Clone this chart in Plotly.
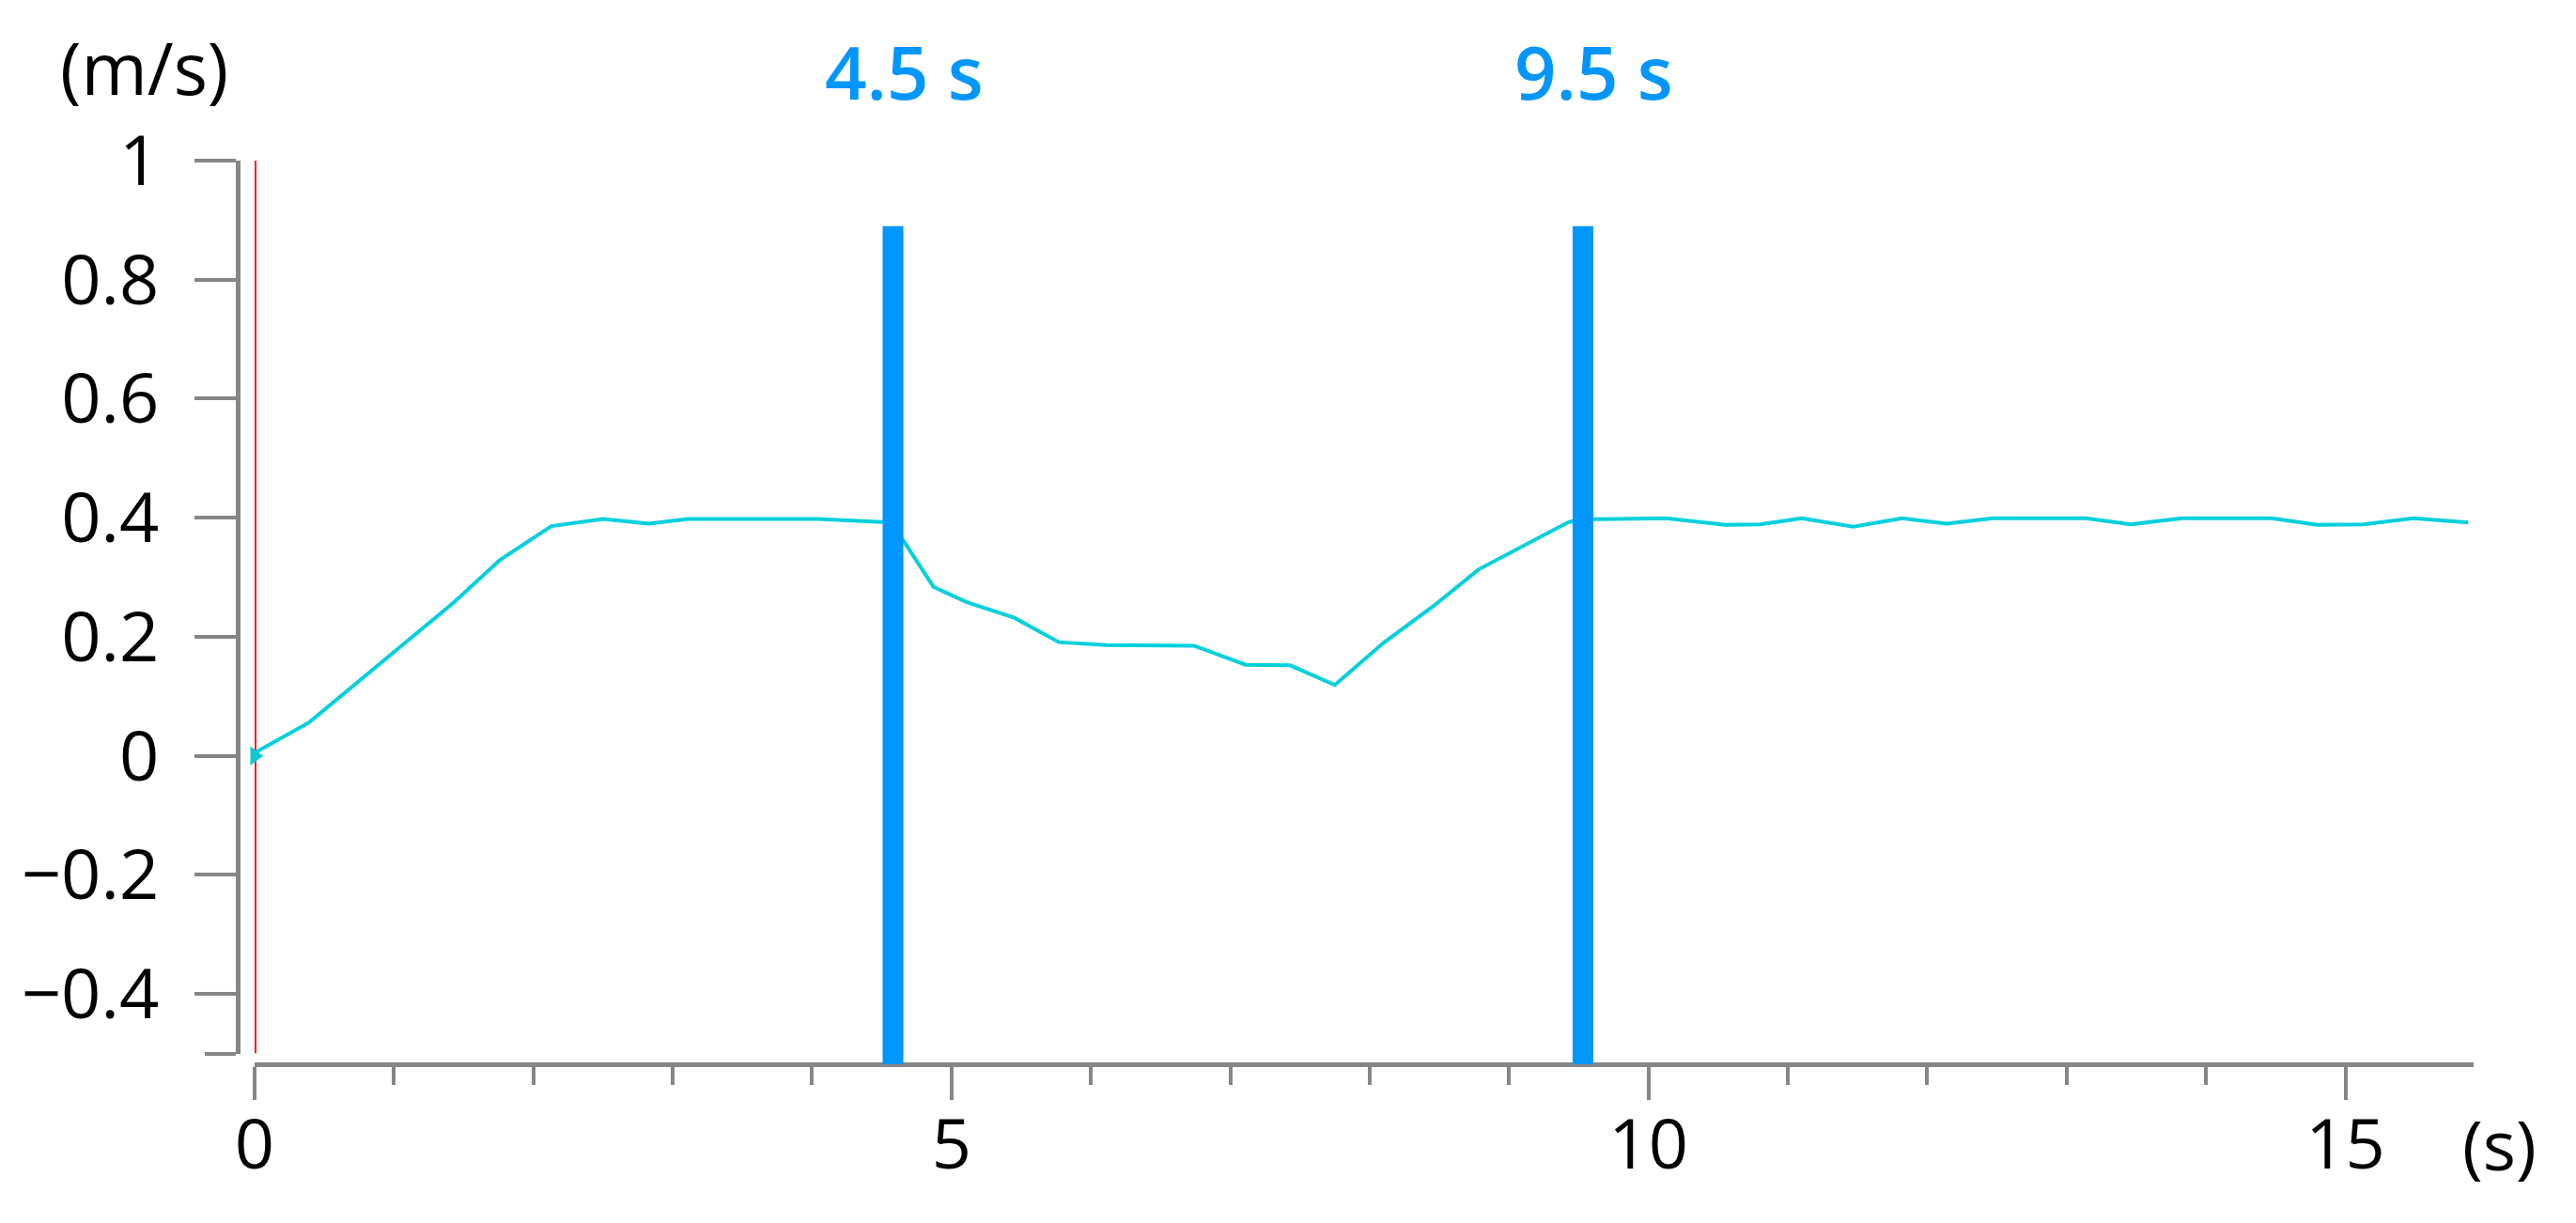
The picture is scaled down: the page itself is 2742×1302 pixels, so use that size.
import plotly.graph_objects as go

# velocity trace
time_s = [0.0, 0.39, 1.43, 1.76, 2.13, 2.50, 2.83, 3.11, 4.04, 4.57, 4.87,
          5.11, 5.45, 5.77, 6.11, 6.74, 7.11, 7.43, 7.75, 8.10, 8.46, 8.78,
          9.42, 9.50, 10.13, 10.55, 10.80, 11.10, 11.47, 11.82, 12.14, 12.47,
          13.14, 13.46, 13.83, 14.47, 14.80, 15.13, 15.49, 15.88]
speed = [0.005, 0.056, 0.258, 0.329, 0.386, 0.398, 0.390, 0.398, 0.398, 0.392, 0.284,
         0.258, 0.232, 0.191, 0.186, 0.185, 0.153, 0.152, 0.119, 0.190, 0.252, 0.313,
         0.392, 0.397, 0.399, 0.388, 0.389, 0.399, 0.385, 0.399, 0.390, 0.399,
         0.399, 0.389, 0.399, 0.399, 0.388, 0.389, 0.399, 0.392]

cursor_t = 0.0
event_t = [4.58, 9.53]
event_labels = ["4.5 s", "9.5 s"]
event_top = 0.89

x_ticks = [0, 5, 10, 15]
y_ticks = [-0.4, -0.2, 0, 0.2, 0.4, 0.6, 0.8, 1]
x_range = [0, 15.92]
y_range = [-0.5, 1]

W, H = 2742, 1302
OFF = 8  # page body margin
pw, ph = 2380, 962
ml, mt = 253 - OFF, 171 - OFF
mr, mb = W - ml - pw, H - mt - ph
xdom = [18 / pw, 1]
ydom = [11.5 / ph, 1]

cyan = "#00d0dc"
blue = "#0096ff"
grey = "#868686"
font = "Open Sans"


def ypaper(v):
    return ydom[0] + (v - y_range[0]) / (y_range[1] - y_range[0]) * (ydom[1] - ydom[0])


def px(x):  # reference pixel -> paper x
    return (x - 253) / pw


def py(y):  # reference pixel -> paper y
    return (1133 - y) / ph


fig = go.Figure()

fig.add_trace(go.Scatter(x=time_s, y=speed, mode="lines",
                         line=dict(color=cyan, width=4), showlegend=False))
fig.add_trace(go.Scatter(x=time_s[:1], y=[0], mode="markers",
                         marker=dict(symbol="triangle-right", size=18, color="#10c8d4"),
                         showlegend=False, cliponaxis=False))

# cursor at t=0
fig.add_shape(type="line", xref="x", yref="y", x0=cursor_t, x1=cursor_t,
              y0=y_range[0], y1=y_range[1], line=dict(color="#ff1a1a", width=4),
              layer="below")

# event markers
for t, lab in zip(event_t, event_labels):
    fig.add_shape(type="line", xref="x", yref="paper", x0=t, x1=t,
                  y0=0, y1=ypaper(event_top), line=dict(color=blue, width=22))
    fig.add_annotation(x=t, y=py(76), xref="x", yref="paper", text=lab,
                       showarrow=False, xanchor="center", yanchor="middle", xshift=12,
                       font=dict(family=font, size=78, color=blue, weight=600))

fig.add_annotation(x=px(153), y=py(71), xref="paper", yref="paper",
                   text="(m/s)", showarrow=False, xanchor="center", yanchor="middle",
                   font=dict(family=font, size=76, color="black"))
fig.add_annotation(x=px(2660), y=py(1217), xref="paper", yref="paper",
                   text="(s)", showarrow=False, xanchor="center", yanchor="middle",
                   font=dict(family=font, size=74, color="black"))

fig.update_layout(
    width=W, height=H,
    margin=dict(l=ml, r=mr, t=mt, b=mb, pad=0),
    paper_bgcolor="white", plot_bgcolor="white",
    font=dict(family=font, size=74, color="black"),
    xaxis=dict(domain=xdom, range=x_range, anchor="free", position=0,
               showline=True, linecolor=grey, linewidth=5,
               ticks="outside", ticklen=35, tickwidth=4, tickcolor=grey,
               tickvals=x_ticks, showgrid=False, zeroline=False, ticklabelstandoff=-16,
               minor=dict(dtick=1, ticks="outside", ticklen=19, tickwidth=4, tickcolor=grey)),
    yaxis=dict(domain=ydom, range=y_range, anchor="free", position=0,
               showline=True, linecolor=grey, linewidth=5,
               ticks="outside", ticklen=44, tickwidth=4, tickcolor=grey,
               tickvals=y_ticks, showgrid=False, zeroline=False, ticklabelstandoff=23,
               minor=dict(tickvals=[-0.5], ticks="outside", ticklen=33, tickwidth=4, tickcolor=grey)),
)

fig.write_html("out.html")
